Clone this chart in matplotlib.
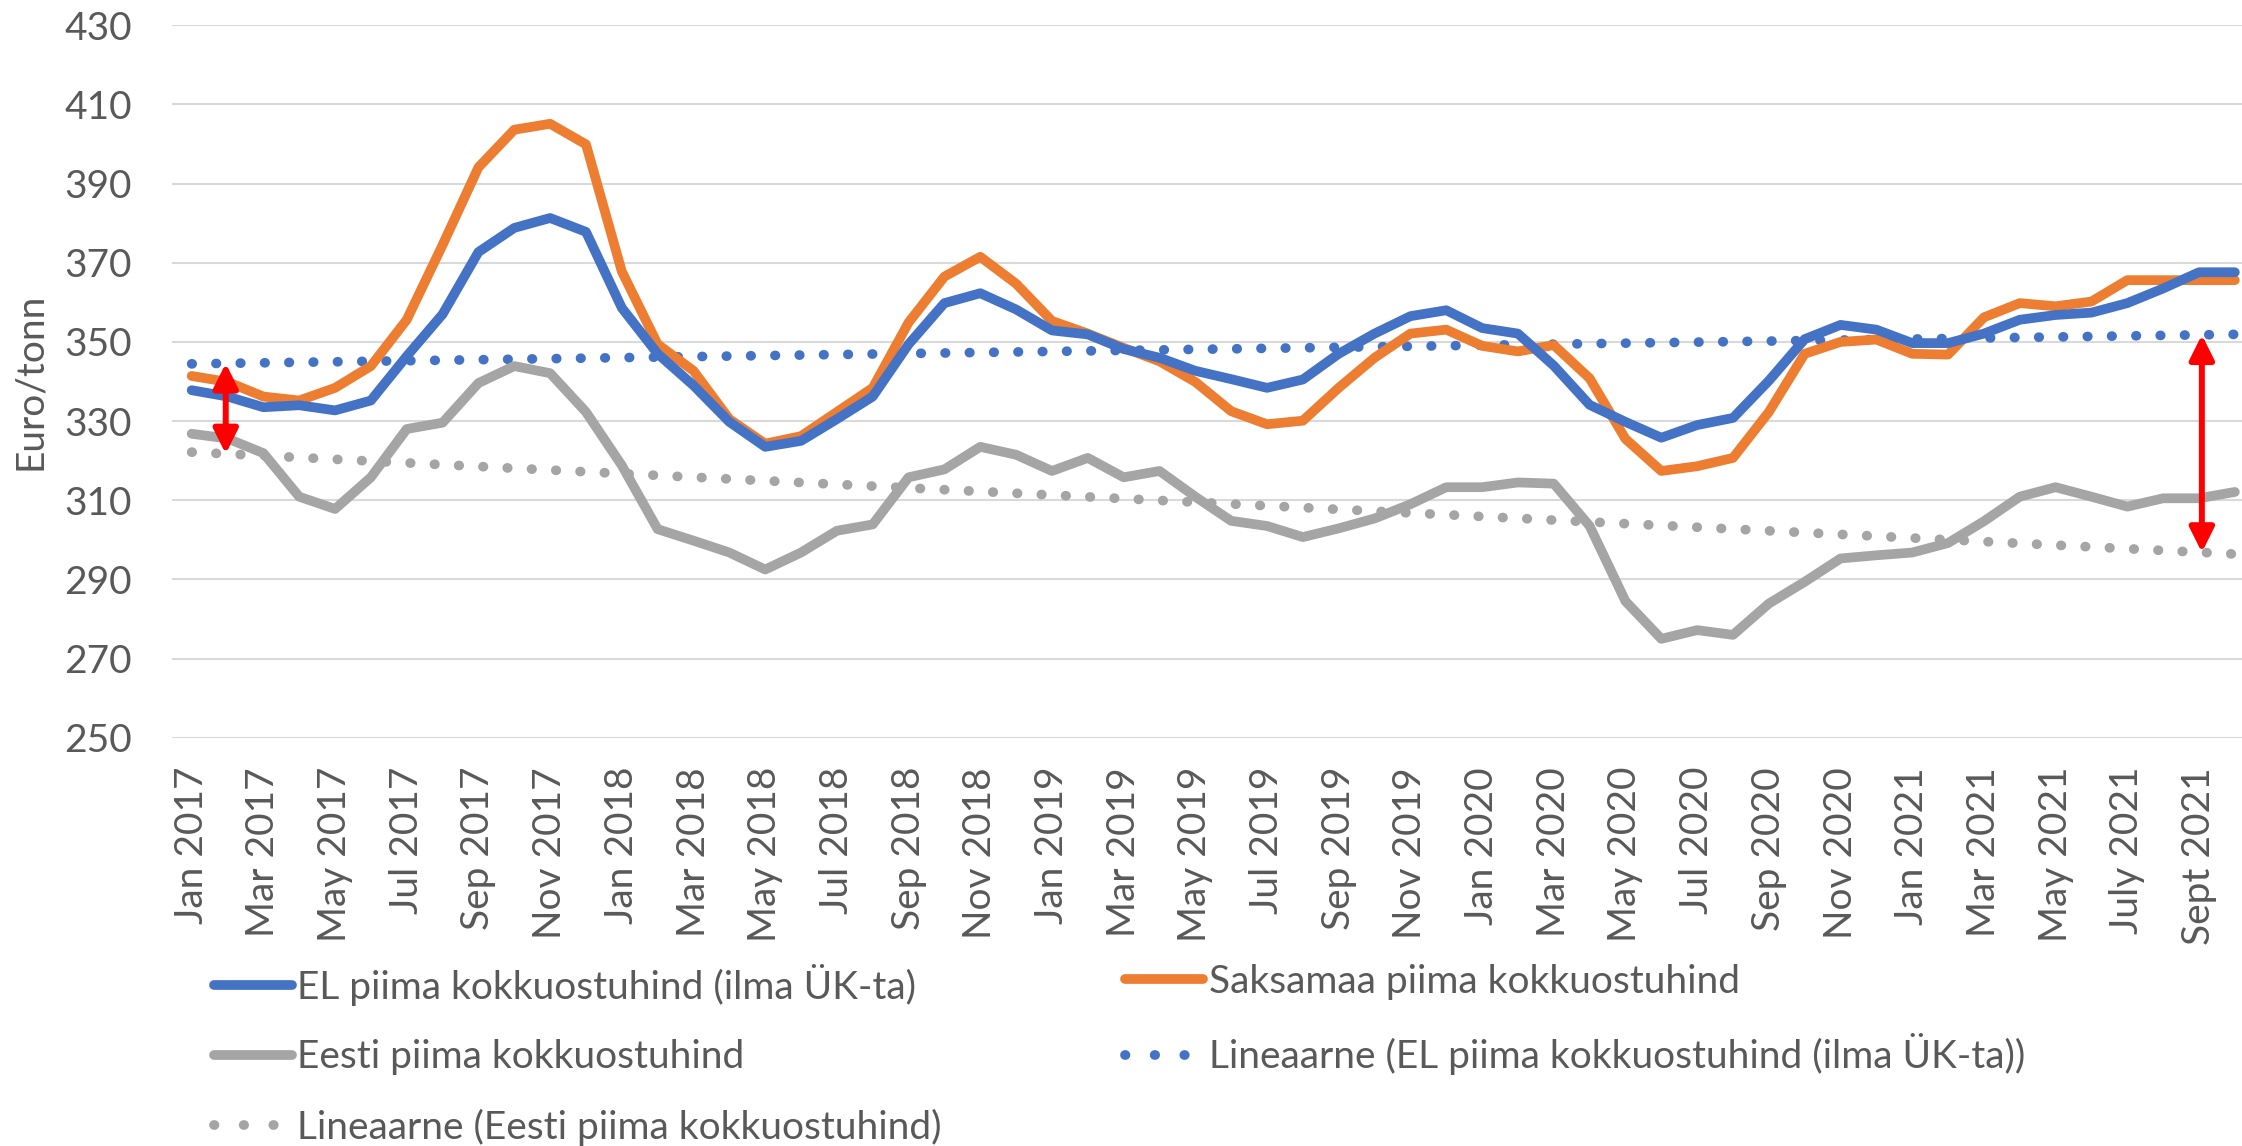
import numpy as np
import matplotlib
matplotlib.use("Agg")
import matplotlib.pyplot as plt
from matplotlib.lines import Line2D

plt.rcParams['font.family'] = ['Lato', 'DejaVu Sans']

# kuised kokkuostuhinnad, jaan 2017 - okt 2021 (euro/tonn)
el_hind = [337.8, 336.2, 333.5, 334.0, 332.7, 335.2, 346.4, 357.0, 372.7, 378.8, 381.3, 377.8,
           358.6, 347.0, 339.0, 329.8, 323.5, 325.0, 330.5, 336.2, 349.4, 359.8, 362.3, 358.2,
           352.9, 351.9, 348.2, 346.0, 342.7, 340.6, 338.4, 340.5, 347.0, 352.1, 356.5, 358.0,
           353.5, 352.1, 344.0, 334.1, 329.8, 325.8, 329.0, 330.8, 340.2, 350.7, 354.3, 353.1,
           349.7, 349.7, 352.1, 355.6, 356.8, 357.4, 359.8, 363.5, 367.6, 367.6]
de_hind = [341.4, 339.9, 336.2, 335.2, 338.4, 343.9, 355.6, 374.5, 394.1, 403.6, 405.1, 399.9,
           367.8, 349.4, 342.7, 330.5, 324.3, 326.2, 332.3, 338.4, 354.9, 366.5, 371.5, 364.7,
           355.3, 352.1, 348.5, 345.1, 339.9, 332.5, 329.2, 330.1, 338.4, 346.0, 352.1, 353.1,
           349.0, 347.6, 349.2, 340.8, 325.5, 317.4, 318.6, 320.7, 332.3, 347.0, 350.0, 350.6,
           347.0, 346.8, 356.2, 359.8, 359.0, 360.2, 365.6, 365.6, 365.6, 365.6]
ee_hind = [326.8, 325.6, 321.9, 310.9, 307.8, 315.8, 328.0, 329.6, 339.6, 343.9, 342.1, 332.3,
           318.8, 302.7, 299.8, 296.8, 292.5, 296.8, 302.3, 303.9, 315.8, 317.8, 323.5, 321.5,
           317.4, 320.7, 315.8, 317.4, 310.9, 304.8, 303.5, 300.7, 302.9, 305.4, 309.0, 313.3,
           313.3, 314.5, 314.2, 303.5, 284.5, 275.0, 277.2, 276.0, 283.9, 289.4, 295.3, 296.1,
           296.8, 299.2, 304.7, 310.9, 313.3, 310.9, 308.4, 310.5, 310.5, 312.1]

tick_labels = ['Jan 2017', 'Mar 2017', 'May 2017', 'Jul 2017', 'Sep 2017', 'Nov 2017',
               'Jan 2018', 'Mar 2018', 'May 2018', 'Jul 2018', 'Sep 2018', 'Nov 2018',
               'Jan 2019', 'Mar 2019', 'May 2019', 'Jul 2019', 'Sep 2019', 'Nov 2019',
               'Jan 2020', 'Mar 2020', 'May 2020', 'Jul 2020', 'Sep 2020', 'Nov 2020',
               'Jan 2021', 'Mar 2021', 'May 2021', 'July 2021', 'Sept 2021']

labels = ['EL piima kokkuostuhind (ilma ÜK-ta)', 'Saksamaa piima kokkuostuhind',
          'Eesti piima kokkuostuhind', 'Lineaarne (EL piima kokkuostuhind (ilma ÜK-ta))',
          'Lineaarne (Eesti piima kokkuostuhind)']

BLUE, ORANGE, GRAY = '#4472C4', '#ED7D31', '#A5A5A5'
TXT = '#595959'
FS = 28

x = np.arange(len(el_hind))
# lineaarsed trendid nagu Excelis
el_trend = np.polyval(np.polyfit(x, el_hind, 1), x)
ee_trend = np.polyval(np.polyfit(x, ee_hind, 1), x)

fig = plt.figure(figsize=(22.42, 11.46), dpi=100)
ax = fig.add_axes([0.0767, 0.3562, 0.9233, 0.6218])

lw = 7
dots = (0, (0.05, 2.45))
ax.plot(x, el_trend, color=BLUE, lw=lw, linestyle=dots, dash_capstyle='round')
ax.plot(x, ee_trend, color=GRAY, lw=lw, linestyle=dots, dash_capstyle='round')
ax.plot(x, ee_hind, color=GRAY, lw=lw, solid_joinstyle='round', solid_capstyle='round')
ax.plot(x, de_hind, color=ORANGE, lw=lw, solid_joinstyle='round', solid_capstyle='round')
ax.plot(x, el_hind, color=BLUE, lw=lw, solid_joinstyle='round', solid_capstyle='round')

# punased nooled trendide vahel
for xi in [0.95, 56.08]:
    ax.annotate('', xy=(xi, np.interp(xi, x, ee_trend)), xytext=(xi, np.interp(xi, x, el_trend)),
                arrowprops=dict(arrowstyle='<|-|>', color='red', lw=4.3,
                                mutation_scale=37, shrinkA=0, shrinkB=0))

ax.set_ylim(250, 430)
ax.set_xlim(-0.55, 57.2)
ax.set_yticks(np.arange(250, 431, 20))
ax.set_xticks(np.arange(0, len(x), 2))
ax.set_xticklabels(tick_labels, rotation=90)
ax.tick_params(axis='both', length=0, labelsize=FS, labelcolor=TXT)
ax.tick_params(axis='x', pad=21)
ax.tick_params(axis='y', pad=29)
ax.grid(axis='y', color='#D9D9D9', lw=1.5)
ax.set_axisbelow(True)
for s in ax.spines.values():
    s.set_visible(False)
ax.set_ylabel('Euro/tonn', fontsize=FS, color=TXT)
ax.yaxis.set_label_coords(-0.060, 0.5)

def h(c, ls='-'):
    if ls == '-':
        return Line2D([], [], color=c, lw=lw, solid_capstyle='round')
    return Line2D([], [], color=c, lw=lw, linestyle=(0, (0.05, 3.0)), dash_capstyle='round')

leg_kw = dict(loc='upper left', frameon=False, fontsize=FS, labelcolor=TXT, borderpad=0,
              borderaxespad=0, handlelength=2.0, handletextpad=0.15, labelspacing=0.86)
fig.legend([h(BLUE), h(GRAY), h(GRAY, ':')], [labels[0], labels[2], labels[4]],
           bbox_to_anchor=(0.0954, 0.159), **leg_kw)
fig.legend([h(ORANGE), h(BLUE, ':')], [labels[1], labels[3]],
           bbox_to_anchor=(0.5020, 0.159), **leg_kw)

fig.savefig('out.png', dpi=100)
